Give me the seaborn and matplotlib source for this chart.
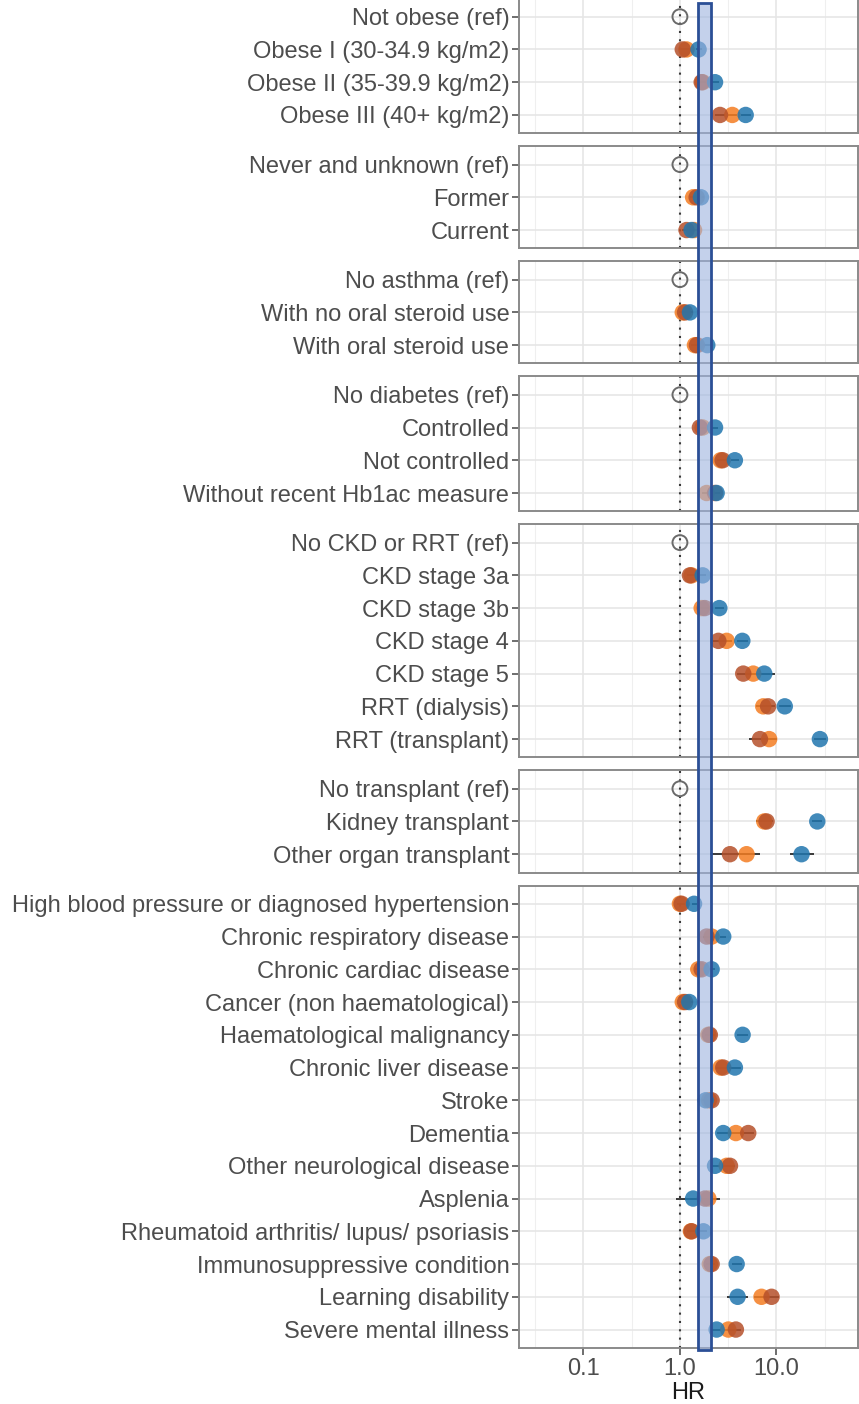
import numpy as np
import pandas as pd
import matplotlib
matplotlib.use("Agg")
import matplotlib.pyplot as plt
import matplotlib.transforms as mtransforms
from matplotlib.patches import Rectangle
import seaborn as sns

nan = np.nan

# ---------------- data ----------------
group_names = ["Obesity", "Smoking", "Asthma", "Diabetes", "Kidney", "Transplant", "Other"]
group_sizes = [4, 3, 3, 4, 7, 3, 14]

row_labels = [
    "Not obese (ref)", "Obese I (30-34.9 kg/m2)", "Obese II (35-39.9 kg/m2)", "Obese III (40+ kg/m2)",
    "Never and unknown (ref)", "Former", "Current",
    "No asthma (ref)", "With no oral steroid use", "With oral steroid use",
    "No diabetes (ref)", "Controlled", "Not controlled", "Without recent Hb1ac measure",
    "No CKD or RRT (ref)", "CKD stage 3a", "CKD stage 3b", "CKD stage 4", "CKD stage 5",
    "RRT (dialysis)", "RRT (transplant)",
    "No transplant (ref)", "Kidney transplant", "Other organ transplant",
    "High blood pressure or diagnosed hypertension", "Chronic respiratory disease",
    "Chronic cardiac disease", "Cancer (non haematological)", "Haematological malignancy",
    "Chronic liver disease", "Stroke", "Dementia", "Other neurological disease", "Asplenia",
    "Rheumatoid arthritis/ lupus/ psoriasis", "Immunosuppressive condition",
    "Learning disability", "Severe mental illness",
]

blue_hr = [nan, 1.56, 2.31, 4.80, nan, 1.65, 1.32, nan, 1.27, 1.92, nan, 2.31, 3.71, 2.40,
           nan, 1.72, 2.56, 4.43, 7.48, 12.2, 28.2, nan, 26.5, 18.2,
           1.40, 2.81, 2.13, 1.25, 4.46, 3.71, 1.85, 2.81, 2.31, 1.37, 1.75, 3.87, 3.96, 2.40]
blue_lo = [nan, 1.45, 2.10, 4.25, nan, 1.55, 1.20, nan, 1.18, 1.72, nan, 2.15, 3.35, 2.20,
           nan, 1.60, 2.30, 3.90, 6.00, 10.6, 24.5, nan, 23.5, 13.8,
           1.32, 2.60, 1.98, 1.16, 3.90, 3.25, 1.68, 2.40, 2.05, 0.92, 1.60, 3.45, 3.10, 2.15]
blue_hi = [nan, 1.68, 2.54, 5.40, nan, 1.76, 1.45, nan, 1.37, 2.15, nan, 2.48, 4.10, 2.62,
           nan, 1.85, 2.85, 5.05, 9.60, 14.0, 32.5, nan, 29.9, 24.5,
           1.49, 3.03, 2.29, 1.35, 5.10, 4.25, 2.04, 3.30, 2.60, 2.00, 1.92, 4.35, 5.10, 2.68]

orange_hr = [nan, 1.17, 1.72, 3.49, nan, 1.37, 1.40, nan, 1.07, 1.43, nan, 1.72, 2.64, 1.89,
             nan, 1.32, 1.68, 3.05, 5.75, 7.3, 8.4, nan, 7.48, 4.9,
             1.00, 2.13, 1.55, 1.07, 1.97, 2.64, 2.00, 3.80, 3.05, 1.97, 1.30, 2.04, 7.00, 3.17]
orange_lo = [nan, 1.08, 1.58, 3.15, nan, 1.28, 1.25, nan, 0.99, 1.30, nan, 1.60, 2.40, 1.70,
             nan, 1.22, 1.52, 2.70, 4.90, 6.2, 7.0, nan, 6.2, 3.6,
             0.93, 1.98, 1.42, 0.99, 1.80, 2.35, 1.82, 3.30, 2.75, 1.50, 1.18, 1.88, 5.90, 2.85]
orange_hi = [nan, 1.27, 1.88, 3.88, nan, 1.47, 1.57, nan, 1.16, 1.58, nan, 1.85, 2.90, 2.10,
             nan, 1.43, 1.86, 3.45, 6.80, 8.6, 10.1, nan, 9.3, 6.7,
             1.07, 2.30, 1.70, 1.16, 2.16, 2.98, 2.20, 4.40, 3.38, 2.60, 1.43, 2.22, 8.30, 3.52]

brown_hr = [nan, 1.07, 1.68, 2.60, nan, 1.49, 1.17, nan, 1.13, 1.50, nan, 1.61, 2.77, 2.31,
            nan, 1.27, 1.81, 2.50, 4.53, 8.2, 6.75, nan, 7.9, 3.3,
            1.04, 1.89, 1.68, 1.13, 2.04, 2.81, 2.13, 5.10, 3.30, 1.81, 1.32, 2.13, 8.90, 3.80]
brown_lo = [nan, 0.99, 1.55, 2.32, nan, 1.38, 1.05, nan, 1.04, 1.36, nan, 1.49, 2.52, 2.10,
            nan, 1.17, 1.62, 2.20, 3.90, 7.0, 5.2, nan, 6.8, 2.05,
            0.97, 1.74, 1.54, 1.04, 1.82, 2.50, 1.95, 4.40, 2.95, 1.30, 1.20, 1.95, 7.40, 3.40]
brown_hi = [nan, 1.16, 1.82, 2.92, nan, 1.61, 1.31, nan, 1.23, 1.66, nan, 1.74, 3.05, 2.55,
            nan, 1.38, 2.02, 2.85, 5.30, 9.6, 10.0, nan, 9.2, 5.3,
            1.12, 2.06, 1.84, 1.23, 2.30, 3.15, 2.33, 5.90, 3.70, 2.50, 1.46, 2.33, 10.6, 4.25]

x_ticks = [0.1, 1.0, 10.0]
x_tick_labels = ["0.1", "1.0", "10.0"]
x_label = "HR"
highlight_lo, highlight_hi = 1.54, 2.10

series_order = ["orange", "brown", "blue"]  # drawing order (blue on top)
palette = {"blue": "#2176ae", "orange": "#f47d22", "brown": "#b5502a"}

# ---------------- long table ----------------
groups = [g for g, n in zip(group_names, group_sizes) for _ in range(n)]
pos = [i for n in group_sizes for i in range(n)]
series_data = {
    "blue": (blue_hr, blue_lo, blue_hi),
    "orange": (orange_hr, orange_lo, orange_hi),
    "brown": (brown_hr, brown_lo, brown_hi),
}
frames = []
for s in series_order:
    hr, lo, hi = series_data[s]
    frames.append(pd.DataFrame({"label": row_labels, "group": groups, "pos": pos,
                                "series": s, "hr": hr, "lo": lo, "hi": hi}))
df = pd.concat(frames, ignore_index=True)
ref = pd.DataFrame({"label": row_labels, "group": groups, "pos": pos})
ref = ref[ref["label"].str.endswith("(ref)")].assign(hr=1.0)

# ---------------- style ----------------
sns.set_style("white")
plt.rcParams["font.family"] = ["Liberation Sans", "DejaVu Sans"]
FS = 17
plt.rcParams["font.size"] = FS

W, H = 859, 1404
fig = plt.figure(figsize=(W / 100, H / 100), dpi=100)

u = 32.75      # px per row
pad = 18.3     # px padding above/below rows
gap = 13.0     # px between panels
left_px, right_px = 519, 858
top_px = 16.7 - pad
xlim = (0.0215, 70)

text_col = "#4d4d4d"
axes = []
for g, n in zip(group_names, group_sizes):
    h = (n - 1) * u + 2 * pad
    ax = fig.add_axes([left_px / W, 1 - (top_px + h) / H, (right_px - left_px) / W, h / H])
    top_px += h + gap
    axes.append(ax)

    sub = df[df["group"] == g]
    rsub = ref[ref["group"] == g]

    ax.set_xscale("log")
    ax.set_xlim(*xlim)
    ax.set_ylim(n - 1 + pad / u, -pad / u)

    # grid
    ax.set_xticks(x_ticks)
    ax.set_xticks([10 ** -1.5, 10 ** -0.5, 10 ** 0.5, 10 ** 1.5], minor=True)
    ax.set_yticks(range(n))
    ax.grid(True, which="major", axis="both", color="#e6e6e6", lw=1.2, zorder=0)
    ax.grid(True, which="minor", axis="x", color="#efefef", lw=0.8, zorder=0)
    ax.set_axisbelow(True)

    ax.axvline(1.0, color="#3a3a3a", lw=1.5, ls=(0, (1, 3)), zorder=1.5)

    # CIs
    ax.hlines(sub["pos"], sub["lo"], sub["hi"], color="#3a3a3a", lw=1.4, zorder=2)
    # points
    sns.scatterplot(data=sub.dropna(subset=["hr"]), x="hr", y="pos", hue="series",
                    hue_order=series_order, palette=palette, s=140, alpha=0.85,
                    linewidth=0, legend=False, ax=ax, zorder=3)
    # reference points
    ax.scatter(rsub["hr"], rsub["pos"], s=115, facecolors="none", edgecolors="#6a6a6a",
               linewidths=1.4, zorder=3)

    ax.set_yticklabels(sub.drop_duplicates("pos")["label"].tolist())
    ax.set_xlabel("")
    ax.set_ylabel("")
    for sp in ax.spines.values():
        sp.set_color("#8a8a8a")
        sp.set_linewidth(1.4)
    ax.tick_params(axis="y", which="major", length=5, width=1.2, color="#555555",
                   labelcolor=text_col, labelsize=FS, pad=2, left=True)
    ax.tick_params(axis="x", which="minor", length=0, bottom=False)
    ax.tick_params(axis="x", which="major", length=0, labelbottom=False)

bax = axes[-1]
bax.set_xticklabels(x_tick_labels)
bax.tick_params(axis="x", which="major", length=5, width=1.2, color="#555555",
                labelcolor=text_col, labelsize=FS, pad=2.5, labelbottom=True, bottom=True)
bax.set_xlabel(x_label, fontsize=FS, color="#1a1a1a", labelpad=1)

# highlight band across all panels
trans = mtransforms.blended_transform_factory(bax.transData, fig.transFigure)
y_bot = 1 - 1349.5 / H
y_top = 1 - 3.3 / H
rect = Rectangle((highlight_lo, y_bot), highlight_hi - highlight_lo, y_top - y_bot,
                 transform=trans, facecolor="#9db3df", alpha=0.6, edgecolor="none", zorder=10)
edge = Rectangle((highlight_lo, y_bot), highlight_hi - highlight_lo, y_top - y_bot,
                 transform=trans, facecolor="none", edgecolor="#2b4f96", lw=2.0, zorder=11)
fig.add_artist(rect)
fig.add_artist(edge)

fig.savefig("out.png", dpi=100)
